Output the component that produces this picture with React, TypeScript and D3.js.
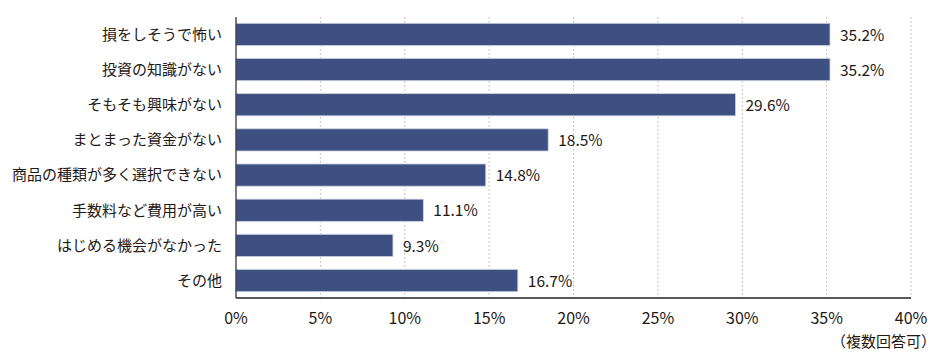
import * as d3 from "d3";
import { useEffect, useRef } from "react";

const categories = [
  "損をしそうで怖い",
  "投資の知識がない",
  "そもそも興味がない",
  "まとまった資金がない",
  "商品の種類が多く選択できない",
  "手数料など費用が高い",
  "はじめる機会がなかった",
  "その他",
];
const values = [35.2, 35.2, 29.6, 18.5, 14.8, 11.1, 9.3, 16.7];
const ticks = [0, 5, 10, 15, 20, 25, 30, 35, 40];
const note = "（複数回答可）";

const App = () => {
  const ref = useRef<SVGSVGElement | null>(null);

  useEffect(() => {
    const svg = d3.select(ref.current);
    svg.selectAll("*").remove();

    const width = 940;
    const height = 360;
    const margin = { top: 17, right: 29, bottom: 62, left: 236 };
    const chartWidth = width - margin.left - margin.right;
    const chartHeight = height - margin.top - margin.bottom;
    const font = "'Noto Sans CJK JP', 'Noto Sans', sans-serif";
    const textColor = "#231815";

    const x = d3.scaleLinear().domain([0, 40]).range([0, chartWidth]);
    const y = d3
      .scaleBand()
      .domain(categories)
      .range([0, chartHeight])
      .paddingInner(0.37)
      .paddingOuter(0.18);

    const g = svg
      .append("g")
      .attr("transform", `translate(${margin.left}, ${margin.top})`);

    // dotted grid
    g.selectAll("line.grid")
      .data(ticks.slice(1))
      .enter()
      .append("line")
      .attr("class", "grid")
      .attr("x1", (d) => x(d))
      .attr("x2", (d) => x(d))
      .attr("y1", 0)
      .attr("y2", chartHeight)
      .attr("stroke", "#b5b5b5")
      .attr("stroke-width", 1)
      .attr("stroke-dasharray", "1.5,2.5");

    // bars
    g.selectAll("rect")
      .data(values)
      .enter()
      .append("rect")
      .attr("x", 0)
      .attr("y", (_, i) => y(categories[i]) ?? 0)
      .attr("width", (d) => x(d))
      .attr("height", y.bandwidth())
      .attr("fill", "#3e5082")
      .attr("stroke", "#c9cfe0")
      .attr("stroke-width", 0.8);

    // value labels
    g.selectAll("text.val")
      .data(values)
      .enter()
      .append("text")
      .attr("class", "val")
      .attr("x", (d) => x(d) + 10)
      .attr("y", (_, i) => (y(categories[i]) ?? 0) + y.bandwidth() / 2)
      .attr("dy", "0.4em")
      .style("font-family", font)
      .style("font-size", "15.5px")
      .style("fill", textColor)
      .text((d) => `${d.toFixed(1)}%`);

    // category labels
    g.selectAll("text.cat")
      .data(categories)
      .enter()
      .append("text")
      .attr("class", "cat")
      .attr("x", -14)
      .attr("y", (d) => (y(d) ?? 0) + y.bandwidth() / 2)
      .attr("dy", "0.36em")
      .attr("text-anchor", "end")
      .style("font-family", font)
      .style("font-size", "15px")
      .style("fill", textColor)
      .text((d) => d);

    // axes lines
    g.append("line")
      .attr("x1", 0)
      .attr("x2", 0)
      .attr("y1", 0)
      .attr("y2", chartHeight)
      .attr("stroke", "#222")
      .attr("stroke-width", 1.2);
    g.append("line")
      .attr("x1", 0)
      .attr("x2", chartWidth)
      .attr("y1", chartHeight)
      .attr("y2", chartHeight)
      .attr("stroke", "#222")
      .attr("stroke-width", 1.5);

    // tick labels
    g.selectAll("text.tick")
      .data(ticks)
      .enter()
      .append("text")
      .attr("class", "tick")
      .attr("x", (d) => x(d))
      .attr("y", chartHeight + 26)
      .attr("text-anchor", "middle")
      .style("font-family", font)
      .style("font-size", "16px")
      .style("fill", textColor)
      .text((d) => `${d}%`);

    svg
      .append("text")
      .attr("x", width - 4)
      .attr("y", height - 13)
      .attr("text-anchor", "end")
      .style("font-family", font)
      .style("font-size", "15px")
      .style("fill", textColor)
      .text(note);
  }, []);

  return (
    <svg
      ref={ref}
      width={940}
      height={360}
      style={{ position: "absolute", left: 0, top: 0, background: "#fff" }}
    ></svg>
  );
};

export default App;
